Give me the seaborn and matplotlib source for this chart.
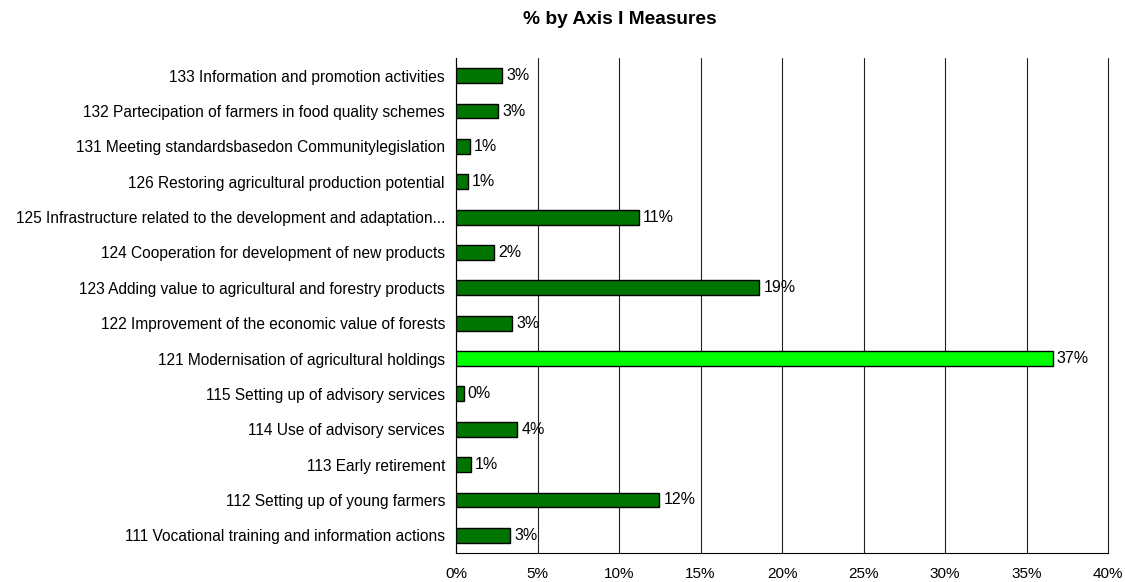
import matplotlib
matplotlib.use("Agg")
import matplotlib.pyplot as plt
import seaborn as sns
import pandas as pd
from matplotlib.ticker import MultipleLocator, FuncFormatter

# Measures listed top to bottom as displayed
measures = [
    "133 Information and promotion activities",
    "132 Partecipation of farmers in food quality schemes",
    "131 Meeting standardsbasedon Communitylegislation",
    "126 Restoring agricultural production potential",
    "125 Infrastructure related to the development and adaptation...",
    "124 Cooperation for development of new products",
    "123 Adding value to agricultural and forestry products",
    "122 Improvement of the economic value of forests",
    "121 Modernisation of agricultural holdings",
    "115 Setting up of advisory services",
    "114 Use of advisory services",
    "113 Early retirement",
    "112 Setting up of young farmers",
    "111 Vocational training and information actions",
]
shares = [2.85, 2.57, 0.86, 0.74, 11.2, 2.36, 18.6, 3.44, 36.6, 0.47, 3.76, 0.92, 12.46, 3.33]
highlight = "121 Modernisation of agricultural holdings"

dark_green = "#007400"
bright_green = "#00FF00"

df = pd.DataFrame({"measure": measures, "share": shares})
palette = {m: (bright_green if m == highlight else dark_green) for m in measures}

sns.set_style("white")
plt.rcParams["font.family"] = ["Liberation Sans", "DejaVu Sans"]
plt.rcParams["text.color"] = "black"
plt.rcParams["xtick.color"] = "black"
plt.rcParams["ytick.color"] = "black"
plt.rcParams["axes.labelcolor"] = "black"

fig = plt.figure(figsize=(11.25, 5.82), dpi=100)
ax = fig.add_axes([456 / 1125, 1 - 553 / 582, (1108 - 456) / 1125, (553 - 58) / 582])

sns.barplot(data=df, x="share", y="measure", hue="measure", order=measures,
            palette=palette, saturation=1, legend=False, orient="h", width=0.42,
            edgecolor="black", linewidth=1.0, ax=ax, zorder=3)

for container in ax.containers:
    ax.bar_label(container, labels=[f"{v:.0f}%" for v in container.datavalues],
                 padding=3, fontsize=11.5, color="black")

ax.set_xlim(0, 40)
ax.xaxis.set_major_locator(MultipleLocator(5))
ax.xaxis.set_major_formatter(FuncFormatter(lambda v, _: f"{v:.0f}%"))
ax.grid(axis="x", color="#222222", linewidth=0.8, zorder=0)
ax.grid(axis="y", visible=False)
ax.set_axisbelow(True)
for gl in ax.get_xgridlines():
    gl.set_clip_on(False)

# category boundary ticks on the y axis
ax.set_yticks(range(len(measures)))
ax.set_yticklabels(measures)
ax.set_yticks([i + 0.5 for i in range(-1, len(measures))], minor=True)
ax.tick_params(axis="y", which="major", length=0, pad=8, labelsize=11.2)
ax.tick_params(axis="y", which="minor", length=4, width=0.8, color="black", direction="out")
ax.tick_params(axis="x", length=4, width=0.8, color="black", direction="out",
               labelsize=11, pad=6)

for side in ["top", "right"]:
    ax.spines[side].set_visible(False)
for side in ["left", "bottom"]:
    ax.spines[side].set_color("black")
    ax.spines[side].set_linewidth(0.8)

ax.set_xlabel("")
ax.set_ylabel("")

fig.text(620 / 1125, 1 - 19 / 582, "% by Axis I Measures", ha="center", va="center",
         fontsize=13.8, fontweight="bold")

fig.savefig("out.png", dpi=100)
